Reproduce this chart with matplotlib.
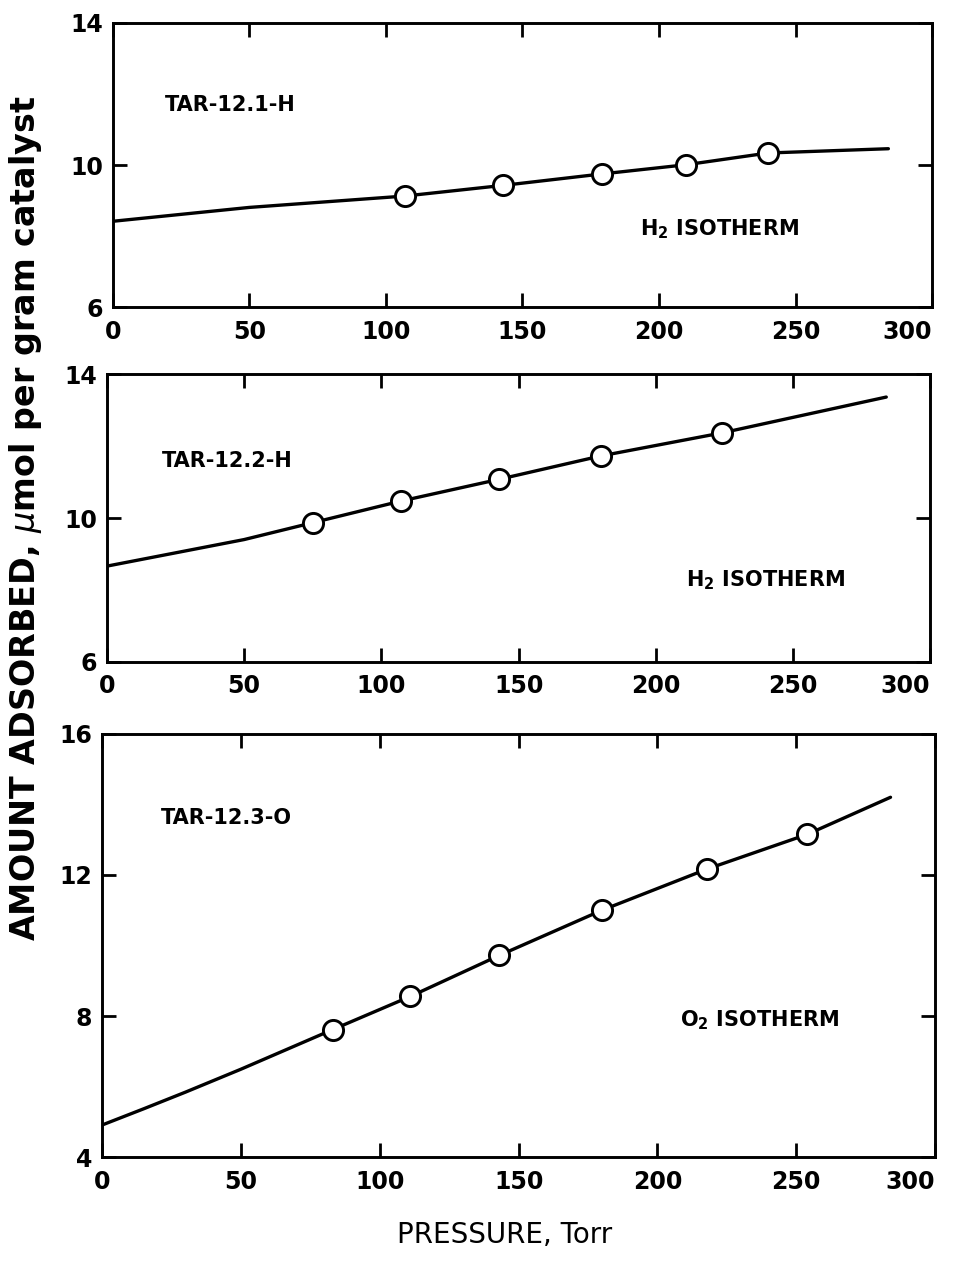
"""
흡착 등온선 그래프
세 가지 촉매 시료의 압력에 따른 흡착량을 세로로 쌓아 그립니다.
"""

import matplotlib
matplotlib.use('Agg')
import matplotlib.pyplot as plt

# 패널 1: TAR-12.1-H (H2)
p1_x = [107, 143, 179, 210, 240]
p1_y = [9.13, 9.43, 9.75, 10.01, 10.34]
c1_x = [0, 50, 107, 143, 179, 210, 240, 284]
c1_y = [8.42, 8.81, 9.13, 9.43, 9.75, 10.01, 10.34, 10.46]

# 패널 2: TAR-12.2-H (H2)
p2_x = [75, 107, 143, 180, 224]
p2_y = [9.87, 10.47, 11.08, 11.73, 12.37]
c2_x = [0, 50, 75, 107, 143, 180, 224, 284]
c2_y = [8.66, 9.40, 9.87, 10.47, 11.08, 11.73, 12.37, 13.37]

# 패널 3: TAR-12.3-O (O2)
p3_x = [83, 111, 143, 180, 218, 254]
p3_y = [7.62, 8.56, 9.72, 11.0, 12.17, 13.15]
c3_x = [0, 15, 30, 50, 83, 111, 143, 180, 218, 254, 284]
c3_y = [4.92, 5.38, 5.85, 6.50, 7.62, 8.56, 9.72, 11.0, 12.17, 13.15, 14.2]

x_ticks = [0, 50, 100, 150, 200, 250, 300]

panels = [
    {
        'rect': [0.118, 0.757, 0.858, 0.225],
        'px': p1_x, 'py': p1_y, 'cx': c1_x, 'cy': c1_y,
        'ylim': (6, 14), 'yticks': [6, 10, 14],
        'name': 'TAR-12.1-H', 'name_pos': (19, 11.7),
        'gas': r'$\mathbf{H_2}$ ISOTHERM', 'gas_pos': (193, 8.2),
    },
    {
        'rect': [0.112, 0.477, 0.862, 0.227],
        'px': p2_x, 'py': p2_y, 'cx': c2_x, 'cy': c2_y,
        'ylim': (6, 14), 'yticks': [6, 10, 14],
        'name': 'TAR-12.2-H', 'name_pos': (20, 11.6),
        'gas': r'$\mathbf{H_2}$ ISOTHERM', 'gas_pos': (211, 8.27),
    },
    {
        'rect': [0.107, 0.085, 0.872, 0.335],
        'px': p3_x, 'py': p3_y, 'cx': c3_x, 'cy': c3_y,
        'ylim': (4, 16), 'yticks': [4, 8, 12, 16],
        'name': 'TAR-12.3-O', 'name_pos': (21, 13.6),
        'gas': r'$\mathbf{O_2}$ ISOTHERM', 'gas_pos': (208, 7.9),
    },
]


def draw_panel(fig, cfg):
    """패널 하나를 그립니다."""
    ax = fig.add_axes(cfg['rect'])
    ax.plot(cfg['cx'], cfg['cy'], color='black', lw=2.4, solid_capstyle='round', zorder=2)
    ax.plot(cfg['px'], cfg['py'], 'o', ms=14.5, mfc='white', mec='black', mew=2.1, zorder=3)

    ax.set_xlim(0, 300)
    ax.set_ylim(*cfg['ylim'])
    ax.set_xticks(x_ticks)
    ax.set_yticks(cfg['yticks'])

    for side in ax.spines.values():
        side.set_linewidth(2.1)
    ax.tick_params(direction='in', length=10, width=2.0, top=True, right=True,
                   labelsize=17)
    ax.tick_params(axis='x', pad=9)
    ax.tick_params(axis='y', pad=7)
    for lab in ax.get_xticklabels() + ax.get_yticklabels():
        lab.set_fontweight('bold')
    # 오른쪽 끝 눈금 글자는 그림 밖으로 나가지 않게 왼쪽으로 당김
    ax.get_xticklabels()[-1].set_ha('right')

    ax.text(*cfg['name_pos'], cfg['name'], fontsize=15, fontweight='bold',
            ha='left', va='center')
    ax.text(*cfg['gas_pos'], cfg['gas'], fontsize=15, fontweight='bold',
            ha='left', va='center')
    return ax


def main():
    plt.rcParams['font.family'] = ['DejaVu Sans']
    plt.rcParams['mathtext.fontset'] = 'dejavusans'

    fig = plt.figure(figsize=(9.55, 12.65), dpi=100)
    for cfg in panels:
        draw_panel(fig, cfg)

    # 공통 축 제목
    fig.text(0.027, 0.59, r'AMOUNT ADSORBED, $\mu$mol per gram catalyst',
             rotation=90, ha='center', va='center', fontsize=24, fontweight='bold')
    fig.text(0.528, 0.024, 'PRESSURE, Torr', ha='center', va='center', fontsize=20)

    fig.savefig('out.png', dpi=100)
    plt.close(fig)


if __name__ == '__main__':
    main()
